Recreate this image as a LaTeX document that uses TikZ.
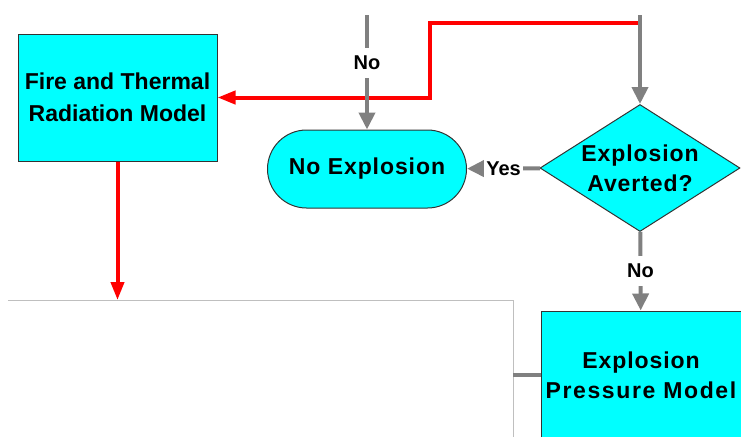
\documentclass[tikz,border=0pt]{standalone}
\usepackage{fontspec}
\setmainfont{Liberation Sans}
\usetikzlibrary{shapes.misc,shapes.geometric,arrows.meta,positioning}
\definecolor{aqua}{RGB}{0,255,255}
\newcommand\wideletters{\addfontfeatures{LetterSpace=4}}
\newcommand\widerletters{\addfontfeatures{LetterSpace=7}}

\begin{document}
\begin{tikzpicture}[x=0.5pt,y=-0.5pt,
  model/.style={rectangle,draw=black!80,fill=aqua,line width=0.5pt,minimum width=99.5pt,minimum height=63.5pt,inner sep=0pt,align=center},
  txt/.style={font=\fontsize{11.5}{16}\selectfont\bfseries},
  flow/.style={draw=gray,line width=2pt,-{Triangle[width=8pt,length=8.5pt]}},
  fireflow/.style={draw=red,line width=2pt,-{Triangle[width=6.5pt,length=9pt]}},
  lbl/.style={fill=white,inner xsep=1pt,inner ysep=4pt,font=\fontsize{10}{12}\selectfont\bfseries}]
\path[use as bounding box,clip] (0,0) rectangle (741,436);

\node[model,txt](1) at (117.5,97.5) {Fire and Thermal\\Radiation Model};
\node[rectangle,rounded corners=19.5pt,draw=black!80,fill=aqua,line width=0.5pt,minimum width=99.5pt,minimum height=39pt,txt](2) at (367,169) {\wideletters No Explosion};
\node[diamond,draw=black!80,fill=aqua,line width=0.5pt,minimum width=100pt,minimum height=63.5pt,inner sep=0pt,
  label={[align=center,font=\fontsize{11.5}{15}\selectfont\bfseries\wideletters]center:Explosion\\Averted?}](3) at (640,168) {};
\node[model,font=\fontsize{11.5}{15}\selectfont\bfseries\wideletters,minimum width=100pt,minimum height=64pt](4) at (641,375) {Explosion\\{\widerletters Pressure Model}};

\coordinate (a) at (367,15);
\coordinate (b) at (640,15);
\coordinate (c) at (640,23);
\coordinate (d) at (430,23);
\coordinate (e) at (117.5,300);
\coordinate (f) at (513,375);

% frame of the part below
\draw[draw=black!25,line width=0.5pt] (8,300) -- (513,300) -- (513,440);

\draw[fireflow] (c) -- (d) |- (1);
\draw[fireflow] (1) -- (e);
\draw[flow] (a) -- node[lbl,pos=0.42] {No} (2);
\draw[flow] (b) -- (3);
\draw[flow] (3) -- node[lbl] {Yes} (2);
\draw[flow] (3) -- node[lbl] {No} (4);
\draw[draw=gray,line width=2pt] (f) -- (4);
\end{tikzpicture}
\end{document}
